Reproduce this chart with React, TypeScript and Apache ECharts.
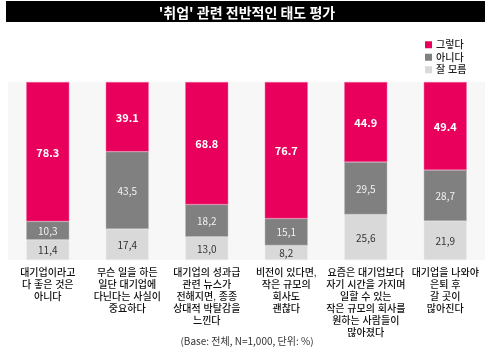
import React, { useEffect, useRef } from "react";
import * as echarts from "echarts";

const categories = [
  "대기업이라고\n다 좋은 것은\n아니다",
  "무슨 일을 하든\n일단 대기업에\n다닌다는 사실이\n중요하다",
  "대기업의 성과급\n관련 뉴스가\n전해지면, 종종\n상대적 박탈감을\n느낀다",
  "비전이 있다면,\n작은 규모의\n회사도\n괜찮다",
  "요즘은 대기업보다\n자기 시간을 가지며\n일할 수 있는\n작은 규모의 회사를\n원하는 사람들이\n많아졌다",
  "대기업을 나와야\n은퇴 후\n갈 곳이\n많아진다",
];
const yes = [78.3, 39.1, 68.8, 76.7, 44.9, 49.4];
const no = [10.3, 43.5, 18.2, 15.1, 29.5, 28.7];
const unknown = [11.4, 17.4, 13.0, 8.2, 25.6, 21.9];

const FONT = "'Noto Sans CJK KR', 'Noto Sans', sans-serif";
const LFONT = "'Liberation Sans', 'Noto Sans CJK KR', sans-serif";

export default function App() {
  const ref = useRef<HTMLDivElement>(null);
  useEffect(() => {
    if (!ref.current) return;
    const chart = echarts.init(ref.current, null, { renderer: "svg" });
    const comma = (p: any) => Number(p.value).toFixed(1).replace(".", ",");
    chart.setOption({
      animation: false,
      textStyle: { fontFamily: FONT },
      graphic: [
        {
          type: "rect",
          shape: { x: 6, y: 1, width: 479, height: 21 },
          style: { fill: "#000" },
        },
        {
          type: "text",
          x: 247,
          y: 11.5,
          style: {
            text: "'취업' 관련 전반적인 태도 평가",
            fill: "#fff",
            font: `bold 14px ${FONT}`,
            align: "center",
            verticalAlign: "middle",
          },
        },
        {
          type: "text",
          x: 247,
          y: 340,
          style: {
            text: "(Base: 전체, N=1,000, 단위: %)",
            fill: "#333",
            font: `10px ${FONT}`,
            align: "center",
            verticalAlign: "middle",
          },
        },
      ],
      legend: {
        orient: "vertical",
        left: 420,
        top: 34,
        itemWidth: 7,
        itemHeight: 7,
        itemGap: 1,
        icon: "rect",
        selectedMode: false,
        itemStyle: { borderWidth: 0 },
        textStyle: {
          fontSize: 10,
          lineHeight: 11.5,
          color: "#222",
          fontWeight: 500,
          fontFamily: LFONT,
          padding: [0, 0, 0, -1],
        },
        data: ["그렇다", "아니다", "잘 모름"],
      },
      grid: {
        left: 8,
        right: 9,
        top: 82,
        bottom: 95,
        show: true,
        backgroundColor: "#f7f7f7",
        borderWidth: 0,
      },
      xAxis: {
        type: "category",
        data: categories,
        axisLine: { show: false },
        axisTick: { show: false },
        axisLabel: {
          interval: 0,
          margin: 6,
          fontSize: 10,
          lineHeight: 12,
          color: "#111",
          fontWeight: 500,
          fontFamily: LFONT,
          verticalAlign: "top",
        },
      },
      yAxis: { type: "value", min: 0, max: 100, show: false, splitLine: { show: false } },
      series: [
        {
          name: "잘 모름",
          type: "bar",
          stack: "a",
          barWidth: 43,
          data: unknown,
          itemStyle: { color: "#d9d9d9", borderColor: "#eeeeee", borderWidth: 0.5 },
          label: { show: true, position: "inside", color: "#333", fontSize: 10, formatter: comma, fontFamily: FONT },
        },
        {
          name: "아니다",
          type: "bar",
          stack: "a",
          barWidth: 43,
          data: no,
          itemStyle: { color: "#808080", borderColor: "#bdbdbd", borderWidth: 0.5 },
          label: { show: true, position: "inside", color: "#f2f2f2", fontSize: 10, formatter: comma, fontFamily: FONT },
        },
        {
          name: "그렇다",
          type: "bar",
          stack: "a",
          barWidth: 43,
          data: yes,
          itemStyle: { color: "#e9005c", borderColor: "#f2709f", borderWidth: 0.5 },
          label: {
            show: true,
            position: "inside",
            color: "#fff",
            fontSize: 11,
            fontWeight: "bold",
            formatter: (p: any) => Number(p.value).toFixed(1),
            fontFamily: FONT,
          },
        },
      ],
    });
    return () => chart.dispose();
  }, []);
  return <div ref={ref} style={{ position: "fixed", left: 0, top: 0, width: 494, height: 355 }} />;
}
